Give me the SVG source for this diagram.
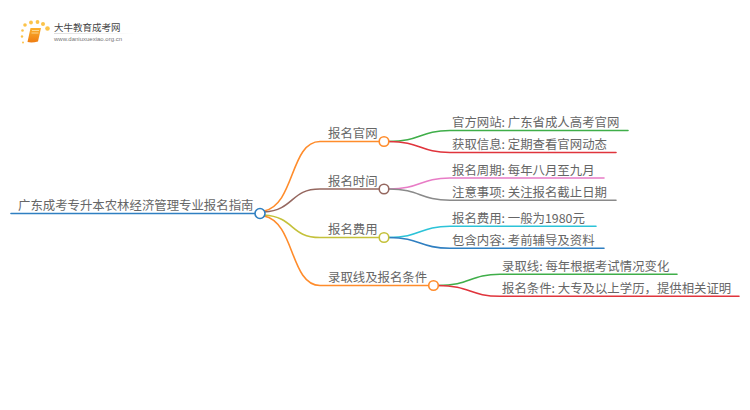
<svg xmlns="http://www.w3.org/2000/svg" width="750" height="410" viewBox="0 0 750 410">
<style>
text{font-family:"Noto Sans CJK SC","Liberation Sans",sans-serif;fill:#666}
.t{font-size:12.4px}
.l{fill:none;stroke-width:1.6;stroke-linecap:round}
.n{fill:#fff;stroke-width:1.6}
</style>
<defs><linearGradient id="b" x1="0" y1="0" x2="0" y2="1"><stop offset="0" stop-color="#fbb02d"/><stop offset="1" stop-color="#ee7d12"/></linearGradient>
<linearGradient id="r" x1="0" y1="0" x2="1" y2="0"><stop offset="0" stop-color="#ddd"/><stop offset="1" stop-color="#fff"/></linearGradient></defs>
<rect width="750" height="410" fill="#fff"/>
<g id="logo">
<g fill="#fbc34a"><circle cx="22.500" cy="30.500" r="1.300"/><circle cx="25" cy="25" r="1.800"/><circle cx="31" cy="22.500" r="1.900"/><circle cx="37.500" cy="22" r="1.900"/><circle cx="43" cy="24" r="2"/><circle cx="47.500" cy="28.500" r="2.300"/><circle cx="22" cy="36.500" r="1.200"/><circle cx="23" cy="42.500" r="1"/></g>
<path d="M30.500 28H41L38 41.500Q32 43 27.500 42Z" fill="url(#b)"/><path d="M32 30.500h7M31.500 33h7" stroke="#fde3a8" stroke-width=".8"/>
<rect x="54" y="33" width="80" height="1" fill="url(#r)"/>
<text x="54" y="31" style="font-size:9.500px;fill:#444">大牛教育成考网</text>
<text x="54" y="41" style="font-size:6px;font-family:'Liberation Sans',sans-serif;fill:#777">www.daniuxuexiao.org.cn</text>
</g>
<g id="connectors">
<path class="l" stroke="#2f7fc1" d="M11 213.500H255"/>
<path class="l" stroke="#ff8c2b" d="M264 211C295 205 290 141.500 320 141.500H379"/>
<path class="l" stroke="#95675f" d="M264 212C295 210 290 189 320 189H379"/>
<path class="l" stroke="#c4c13a" d="M264 215C295 217 290 237.500 320 237.500H379"/>
<path class="l" stroke="#ff8c2b" d="M264 216C295 222 290 285.500 320 285.500H429"/>
<path class="l" stroke="#3fae49" d="M389 141.500C420 141.500 420 130.500 450 130.500H628"/>
<path class="l" stroke="#e0343c" d="M389 141.500C420 141.500 420 152.500 450 152.500H616"/>
<path class="l" stroke="#e87cc6" d="M389 189C420 189 420 178 450 178H604"/>
<path class="l" stroke="#8a8a8a" d="M389 189C420 189 420 200.300 450 200.300H616"/>
<path class="l" stroke="#2cc3d8" d="M389 237.500C420 237.500 420 226.300 450 226.300H596"/>
<path class="l" stroke="#2f7fc1" d="M389 237.500C420 237.500 420 248.300 450 248.300H604"/>
<path class="l" stroke="#3fae49" d="M438 285.500C470 285.500 470 274.300 500 274.300H677"/>
<path class="l" stroke="#e0343c" d="M438 285.500C470 285.500 470 296.300 500 296.300H739"/>
</g>
<g id="root"><text class="t" x="18" y="210">广东成考专升本农林经济管理专业报名指南</text><circle class="n" stroke="#2f7fc1" cx="260" cy="213.500" r="5"/></g>
<g id="n1"><text class="t" x="328" y="138">报名官网</text><circle class="n" stroke="#ff8c2b" cx="384" cy="141.500" r="4.800"/></g>
<g id="n2"><text class="t" x="328" y="185.500">报名时间</text><circle class="n" stroke="#95675f" cx="384" cy="189" r="4.800"/></g>
<g id="n3"><text class="t" x="328" y="234">报名费用</text><circle class="n" stroke="#c4c13a" cx="384" cy="237.500" r="4.800"/></g>
<g id="n4"><text class="t" x="328" y="282">录取线及报名条件</text><circle class="n" stroke="#ff8c2b" cx="433.500" cy="285.500" r="4.800"/></g>
<g id="l1"><text class="t" x="452" y="127">官方网站: 广东省成人高考官网</text></g>
<g id="l2"><text class="t" x="452" y="149">获取信息: 定期查看官网动态</text></g>
<g id="l3"><text class="t" x="452" y="174.500">报名周期: 每年八月至九月</text></g>
<g id="l4"><text class="t" x="452" y="196.500">注意事项: 关注报名截止日期</text></g>
<g id="l5"><text class="t" x="452" y="223">报名费用: 一般为1980元</text></g>
<g id="l6"><text class="t" x="452" y="245">包含内容: 考前辅导及资料</text></g>
<g id="l7"><text class="t" x="502" y="271">录取线: 每年根据考试情况变化</text></g>
<g id="l8"><text class="t" x="502" y="293">报名条件: 大专及以上学历，提供相关证明</text></g>
</svg>
